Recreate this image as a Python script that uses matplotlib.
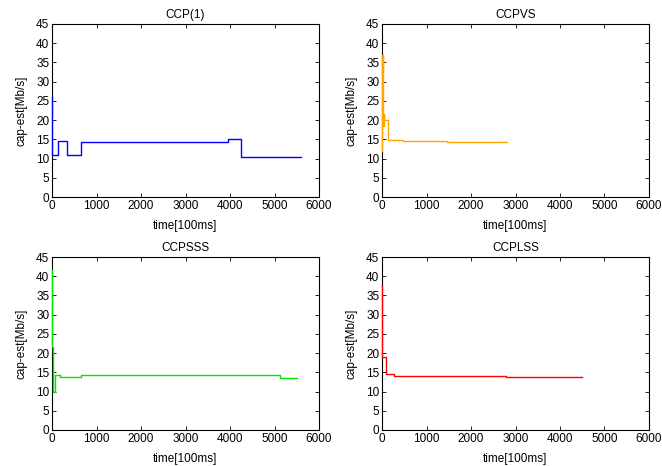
import matplotlib
matplotlib.use("Agg")
import matplotlib.pyplot as plt

plt.rcParams['font.family'] = ['Liberation Sans', 'DejaVu Sans']

titles = ["CCP(1)", "CCPVS", "CCPSSS", "CCPLSS"]
colors = ["#0000ff", "#ffa500", "#00e600", "#ff0000"]

ccp1_t = [0, 5, 10, 130, 330, 650, 3950, 4250, 5600]
ccp1_v = [26, 18, 11, 14.6, 10.8, 14.2, 15.1, 10.5, 10.5]

ccpvs_t = [0, 5, 10, 20, 30, 40, 50, 130, 480, 1450, 2800]
ccpvs_v = [12, 37, 33, 37, 18.5, 21.5, 20, 14.8, 14.6, 14.3, 14.3]

ccpsss_t = [0, 10, 20, 70, 170, 650, 5120, 5500]
ccpsss_v = [41.5, 21.5, 10, 14.3, 13.8, 14.3, 13.5, 13.5]

ccplss_t = [0, 10, 100, 260, 2780, 4500]
ccplss_v = [37.5, 19, 14.6, 14.1, 13.7, 13.7]

series = [(ccp1_t, ccp1_v), (ccpvs_t, ccpvs_v), (ccpsss_t, ccpsss_v), (ccplss_t, ccplss_v)]

fig = plt.figure(figsize=(6.62, 4.66), dpi=100)
W, H = 662, 466
boxes = [(52, 24), (382, 24), (52, 257), (382, 257)]
aw, ah = 267, 173
fs = 8.5

for (x0, y0), title, color, (t, v) in zip(boxes, titles, colors, series):
    ax = fig.add_axes([x0 / W, 1 - (y0 + ah) / H, aw / W, ah / H])
    ax.step(t, v, where='post', color=color, linewidth=1.0, zorder=5, clip_on=False)
    ax.set_xlim(0, 6000)
    ax.set_ylim(0, 45)
    ax.set_xticks(range(0, 6001, 1000))
    ax.set_yticks(range(0, 46, 5))
    ax.tick_params(direction='in', top=True, right=True, labelsize=fs,
                   length=3, width=0.6, pad=2)
    for s in ax.spines.values():
        s.set_linewidth(0.8)
    ax.set_title(title, fontsize=fs, pad=4)
    ax.set_xlabel("time[100ms]", fontsize=fs, labelpad=6)
    ax.set_ylabel("cap-est[Mb/s]", fontsize=fs, labelpad=6)

fig.savefig("out.png", dpi=100)
